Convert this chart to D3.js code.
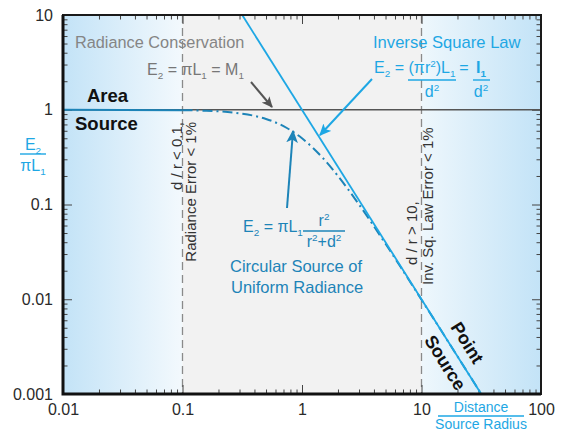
<!DOCTYPE html>
<html>
<head>
<meta charset="utf-8">
<script src="https://cdn.jsdelivr.net/npm/d3@7"></script>
<style>
  body { margin: 0; background: #fff; }
  svg { display: block; font-family: "Liberation Sans", Arial, Helvetica, sans-serif; }
</style>
</head>
<body>
<svg id="chart"></svg>
<script>
// tick values and labels
let xTicks = [0.01, 0.1, 1, 10, 100]
let xTickLabels = ['0.01', '0.1', '1', '10', '100']
let yTicks = [0.001, 0.01, 0.1, 1, 10]
let yTickLabels = ['0.001', '0.01', '0.1', '1', '10']
let minorSteps = [2, 3, 4, 5, 6, 7, 8, 9]

// circular source curve (distance / source radius, E2 / piL1)
let curveD = [0.01, 0.1, 0.15, 0.2, 0.3, 0.4, 0.5, 0.7, 1, 1.5, 2, 3, 5, 7, 10, 20, 31.6]
let curveE = [1, 0.99, 0.978, 0.962, 0.917, 0.862, 0.8, 0.671, 0.5, 0.308, 0.2, 0.1, 0.0385, 0.02, 0.0099, 0.0025, 0.001]

// inverse square law line
let lawD = [0.316, 31.6]
let lawE = [10, 0.001]

// radiance conservation line
let flatD = [0.01, 100]
let flatE = [1, 1]

// validity limits d/r
let limitD = [0.1, 10]

let width = 566
let height = 432
let pLeft = 63, pRight = 541, pTop = 15, pBottom = 394

let blue = '#1ea7e4'
let darkBlue = '#1d84b8'

let svg = d3.select('#chart').attr('width', width).attr('height', height)

let xScale = d3.scaleLog().domain([0.01, 100]).range([pLeft, pRight])
let yScale = d3.scaleLog().domain([0.001, 10]).range([pBottom, pTop])

let defs = svg.append('defs')
let addGrad = (id, c1, c2) => {
  let g = defs.append('linearGradient').attr('id', id).attr('x1', 0).attr('x2', 1).attr('y1', 0).attr('y2', 0)
  g.append('stop').attr('offset', 0).attr('stop-color', c1)
  g.append('stop').attr('offset', 1).attr('stop-color', c2)
}
addGrad('gradL', '#c3e3f7', '#f3f9fd')
addGrad('gradR', '#eef7fc', '#c3e3f7')

let addArrowHead = (id, color, size) => {
  defs.append('marker').attr('id', id)
      .attr('viewBox', '0 0 10 10').attr('refX', 9).attr('refY', 5)
      .attr('markerWidth', size).attr('markerHeight', size).attr('markerUnits', 'userSpaceOnUse')
      .attr('orient', 'auto')
      .append('path').attr('d', 'M0,0.5 L10,5 L0,9.5 L2.5,5 Z').attr('fill', color)
}
addArrowHead('arGray', '#555', 11)
addArrowHead('arBlue', blue, 12)
addArrowHead('arDark', darkBlue, 13)

// background regions
svg.append('rect').attr('x', xScale(0.01)).attr('y', pTop)
   .attr('width', xScale(limitD[0]) - xScale(0.01)).attr('height', pBottom - pTop).attr('fill', 'url(#gradL)')
svg.append('rect').attr('x', xScale(limitD[0])).attr('y', pTop)
   .attr('width', xScale(limitD[1]) - xScale(limitD[0])).attr('height', pBottom - pTop).attr('fill', '#f2f2f2')
svg.append('rect').attr('x', xScale(limitD[1])).attr('y', pTop)
   .attr('width', xScale(100) - xScale(limitD[1])).attr('height', pBottom - pTop).attr('fill', 'url(#gradR)')

// dashed limit lines
svg.selectAll('.limit')
   .data(limitD)
   .enter()
   .append('line')
   .attr('class', 'limit')
   .attr('x1', (d) => xScale(d)).attr('x2', (d) => xScale(d))
   .attr('y1', pTop).attr('y2', pBottom)
   .attr('stroke', '#8a8a8a').attr('stroke-width', 1.3).attr('stroke-dasharray', '8,5')

// minor tick values
let decades = (lo, hi) => {
  let out = []
  for (let p = lo; p < hi; p++) {
    minorSteps.forEach((s) => out.push(s * Math.pow(10, p)))
  }
  return out
}
let xMinor = decades(-2, 2)
let yMinor = decades(-3, 1)

let tickAxis = (axis, pos, values, size, labels) => {
  let a = axis.tickValues(values).tickSize(size).tickPadding(10)
  a.tickFormat(labels ? (d, i) => labels[i] : '')
  let g = svg.append('g').attr('transform', pos).call(a)
  g.select('.domain').remove()
  g.selectAll('line').attr('stroke', '#444').attr('stroke-width', 1)
  g.selectAll('text').attr('font-size', 16).attr('fill', '#2a2a2a')
     .attr('font-family', '"Liberation Sans", Arial, sans-serif')
  return g
}

tickAxis(d3.axisBottom(xScale), 'translate(0,' + pBottom + ')', xTicks, -9, xTickLabels)
tickAxis(d3.axisBottom(xScale), 'translate(0,' + pBottom + ')', xMinor, -4.5)
tickAxis(d3.axisTop(xScale), 'translate(0,' + pTop + ')', xTicks, -9)
tickAxis(d3.axisTop(xScale), 'translate(0,' + pTop + ')', xMinor, -4.5)
tickAxis(d3.axisLeft(yScale), 'translate(' + pLeft + ',0)', yTicks, -9, yTickLabels)
tickAxis(d3.axisLeft(yScale), 'translate(' + pLeft + ',0)', yMinor, -4.5)
tickAxis(d3.axisRight(yScale), 'translate(' + pRight + ',0)', yTicks, -9)
tickAxis(d3.axisRight(yScale), 'translate(' + pRight + ',0)', yMinor, -4.5)

let line = d3.line().x((d) => xScale(d[0])).y((d) => yScale(d[1]))

// radiance conservation line
svg.append('path').datum(d3.zip(flatD, flatE)).attr('d', line)
   .attr('fill', 'none').attr('stroke', '#555').attr('stroke-width', 1.6)

// circular source curve: solid below d/r = 0.1, dash-dot after
let curvePts = d3.zip(curveD, curveE)
svg.append('path').datum(curvePts.filter((d) => d[0] <= limitD[0])).attr('d', line)
   .attr('fill', 'none').attr('stroke', darkBlue).attr('stroke-width', 2)
svg.append('path').datum(curvePts.filter((d) => d[0] >= limitD[0]))
   .attr('d', d3.line().x((d) => xScale(d[0])).y((d) => yScale(d[1])).curve(d3.curveMonotoneX))
   .attr('fill', 'none').attr('stroke', darkBlue).attr('stroke-width', 2)
   .attr('stroke-dasharray', '10,4,2,4')

// inverse square law
svg.append('path').datum(d3.zip(lawD, lawE)).attr('d', line)
   .attr('fill', 'none').attr('stroke', blue).attr('stroke-width', 1.8)

// frame
svg.append('rect').attr('x', pLeft).attr('y', pTop).attr('width', pRight - pLeft).attr('height', pBottom - pTop)
   .attr('fill', 'none').attr('stroke', '#1a1a1a').attr('stroke-width', 2)
svg.append('path').attr('d', 'M' + pLeft + ',' + pTop + 'V' + pBottom + 'H' + pRight)
   .attr('fill', 'none').attr('stroke', '#111').attr('stroke-width', 3)

// rich text helper: parts are [text, 'sub' | 'sup' | null]
let rich = (x, y, parts, opts) => {
  let size = opts.size || 16
  let t = svg.append('text').attr('x', x).attr('y', y)
             .attr('font-size', size).attr('fill', opts.color || '#333')
             .attr('text-anchor', opts.anchor || 'start')
  if (opts.weight) t.attr('font-weight', opts.weight)
  if (opts.transform) t.attr('transform', opts.transform)
  let shift = 0
  parts.forEach((p) => {
    let target = p[1] == 'sub' ? 4 : (p[1] == 'sup' ? -6 : 0)
    let s = t.append('tspan').text(p[0]).attr('dy', target - shift)
    if (p[1]) s.attr('font-size', size * 0.62)
    shift = target
  })
  return t
}
let bar = (x1, x2, y, color) => {
  svg.append('line').attr('x1', x1).attr('x2', x2).attr('y1', y).attr('y2', y)
     .attr('stroke', color).attr('stroke-width', 1.4)
}

// radiance conservation
rich(75, 48, [['Radiance Conservation']], { color: '#858585', size: 16.3 })
rich(147, 75, [['E'], ['2', 'sub'], [' = \u03c0L'], ['1', 'sub'], [' = M'], ['1', 'sub']], { color: '#777' })
svg.append('line').attr('x1', 251).attr('y1', 82).attr('x2', 272).attr('y2', 107)
   .attr('stroke', '#555').attr('stroke-width', 2).attr('marker-end', 'url(#arGray)')

rich(87, 102, [['Area']], { color: '#111', weight: 'bold', size: 18.5 })
rich(75, 130, [['Source']], { color: '#111', weight: 'bold', size: 18.5 })

// inverse square law
rich(373, 48, [['Inverse Square Law']], { color: blue, size: 16.6 })
rich(374, 73, [['E'], ['2', 'sub'], [' =']], { color: blue })
rich(432, 73, [['(\u03c0r'], ['2', 'sup'], [')L'], ['1', 'sub']], { color: blue, anchor: 'middle' })
bar(408, 456, 80, blue)
rich(432, 97, [['d'], ['2', 'sup']], { color: blue, anchor: 'middle' })
rich(464, 73, [['=']], { color: blue, anchor: 'middle' })
rich(481, 73, [['I'], ['1', 'sub']], { color: blue, anchor: 'middle', weight: 'bold' })
bar(473, 490, 80, blue)
rich(481, 97, [['d'], ['2', 'sup']], { color: blue, anchor: 'middle' })
svg.append('line').attr('x1', 372).attr('y1', 79).attr('x2', 320).attr('y2', 135)
   .attr('stroke', blue).attr('stroke-width', 2).attr('marker-end', 'url(#arBlue)')

// circular source
rich(243, 232, [['E'], ['2', 'sub'], [' = \u03c0L'], ['1', 'sub']], { color: darkBlue })
rich(324, 226, [['r'], ['2', 'sup']], { color: darkBlue, anchor: 'middle' })
bar(303, 345, 231, darkBlue)
rich(324, 247, [['r'], ['2', 'sup'], ['+d'], ['2', 'sup']], { color: darkBlue, anchor: 'middle' })
rich(230, 272, [['Circular Source of']], { color: darkBlue, size: 16.5 })
rich(231, 293, [['Uniform Radiance']], { color: darkBlue, size: 16.5 })
svg.append('line').attr('x1', 287).attr('y1', 208).attr('x2', 293).attr('y2', 131)
   .attr('stroke', darkBlue).attr('stroke-width', 2).attr('marker-end', 'url(#arDark)')

// validity notes
rich(0, 0, [['d / r < 0.1,']], { size: 15, anchor: 'end', transform: 'translate(182,122) rotate(-90)' })
rich(0, 0, [['Radiance Error < 1%']], { size: 15, anchor: 'end', transform: 'translate(196,122) rotate(-90)' })
rich(0, 0, [['d / r > 10,']], { size: 15, anchor: 'start', transform: 'translate(417,265) rotate(-90)' })
rich(0, 0, [['Inv. Sq. Law Error < 1%']], { size: 15, anchor: 'start', transform: 'translate(433,285) rotate(-90)' })

// point source labels, along the inverse square line
let ang = Math.atan2(yScale(lawE[1]) - yScale(lawE[0]), xScale(lawD[1]) - xScale(lawD[0])) * 180 / Math.PI
rich(0, 0, [['Point']], { color: '#111', weight: 'bold', size: 18, anchor: 'middle',
  transform: 'translate(462,346) rotate(' + ang + ')' })
rich(0, 0, [['Source']], { color: '#111', weight: 'bold', size: 18, anchor: 'middle',
  transform: 'translate(440,366) rotate(' + ang + ')' })

// axis labels
rich(33, 150, [['E'], ['2', 'sub']], { color: blue, anchor: 'middle' })
bar(20, 46, 154, blue)
rich(33, 171, [['\u03c0L'], ['1', 'sub']], { color: blue, anchor: 'middle' })
rich(481, 412, [['Distance']], { color: blue, anchor: 'middle', size: 14 })
bar(438, 524, 416, blue)
rich(481, 429, [['Source Radius']], { color: blue, anchor: 'middle', size: 14 })
</script>
</body>
</html>
